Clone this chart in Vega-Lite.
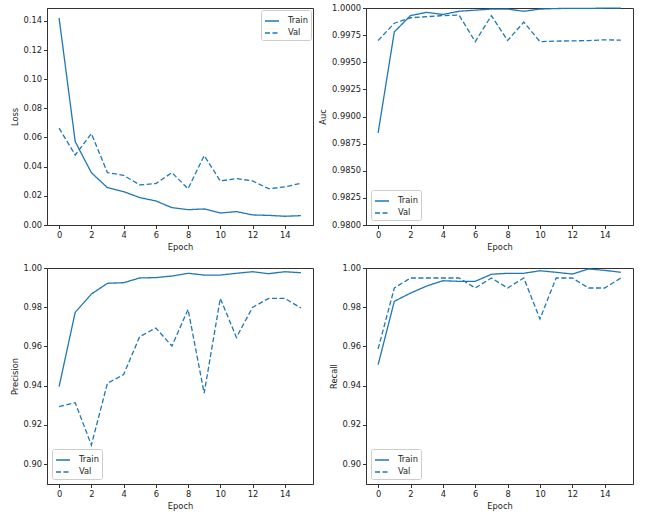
{
  "$schema": "https://vega.github.io/schema/vega-lite/v6.json",
  "background": "white",
  "padding": {"left": 9, "top": 2, "right": 5, "bottom": 5},
  "data": {"values": [
    {"epoch":0,"split":"Train","Loss":0.142,"Auc":0.9885,"Precision":0.9395,"Recall":0.9507},
    {"epoch":1,"split":"Train","Loss":0.0572,"Auc":0.9978,"Precision":0.9774,"Recall":0.983},
    {"epoch":2,"split":"Train","Loss":0.0359,"Auc":0.9993,"Precision":0.9867,"Recall":0.9872},
    {"epoch":3,"split":"Train","Loss":0.0256,"Auc":0.9996,"Precision":0.9922,"Recall":0.9908},
    {"epoch":4,"split":"Train","Loss":0.0229,"Auc":0.9994,"Precision":0.9925,"Recall":0.9935},
    {"epoch":5,"split":"Train","Loss":0.0188,"Auc":0.9997,"Precision":0.9949,"Recall":0.9932},
    {"epoch":6,"split":"Train","Loss":0.0165,"Auc":0.9998,"Precision":0.9951,"Recall":0.9932},
    {"epoch":7,"split":"Train","Loss":0.0119,"Auc":0.9999,"Precision":0.9959,"Recall":0.9968},
    {"epoch":8,"split":"Train","Loss":0.0105,"Auc":0.9999,"Precision":0.9973,"Recall":0.9973},
    {"epoch":9,"split":"Train","Loss":0.011,"Auc":0.9997,"Precision":0.9964,"Recall":0.9973},
    {"epoch":10,"split":"Train","Loss":0.0082,"Auc":0.9999,"Precision":0.9964,"Recall":0.9986},
    {"epoch":11,"split":"Train","Loss":0.0092,"Auc":0.99995,"Precision":0.9973,"Recall":0.9978},
    {"epoch":12,"split":"Train","Loss":0.0069,"Auc":0.99997,"Precision":0.9981,"Recall":0.9969},
    {"epoch":13,"split":"Train","Loss":0.0066,"Auc":0.99997,"Precision":0.9971,"Recall":0.9995},
    {"epoch":14,"split":"Train","Loss":0.006,"Auc":0.99998,"Precision":0.9981,"Recall":0.9988},
    {"epoch":15,"split":"Train","Loss":0.0064,"Auc":0.99998,"Precision":0.9976,"Recall":0.9978},
    {"epoch":0,"split":"Val","Loss":0.0664,"Auc":0.997,"Precision":0.9293,"Recall":0.9587},
    {"epoch":1,"split":"Val","Loss":0.048,"Auc":0.9986,"Precision":0.9313,"Recall":0.9898},
    {"epoch":2,"split":"Val","Loss":0.0627,"Auc":0.9991,"Precision":0.9097,"Recall":0.9949},
    {"epoch":3,"split":"Val","Loss":0.0359,"Auc":0.9992,"Precision":0.9412,"Recall":0.9949},
    {"epoch":4,"split":"Val","Loss":0.0341,"Auc":0.9993,"Precision":0.9456,"Recall":0.9949},
    {"epoch":5,"split":"Val","Loss":0.0275,"Auc":0.99935,"Precision":0.965,"Recall":0.9949},
    {"epoch":6,"split":"Val","Loss":0.0284,"Auc":0.9969,"Precision":0.9694,"Recall":0.9898},
    {"epoch":7,"split":"Val","Loss":0.0359,"Auc":0.9993,"Precision":0.9602,"Recall":0.9949},
    {"epoch":8,"split":"Val","Loss":0.0249,"Auc":0.997,"Precision":0.9789,"Recall":0.9898},
    {"epoch":9,"split":"Val","Loss":0.0476,"Auc":0.9987,"Precision":0.9361,"Recall":0.9949},
    {"epoch":10,"split":"Val","Loss":0.0302,"Auc":0.9969,"Precision":0.9845,"Recall":0.974},
    {"epoch":11,"split":"Val","Loss":0.0318,"Auc":0.99695,"Precision":0.9646,"Recall":0.9949},
    {"epoch":12,"split":"Val","Loss":0.0302,"Auc":0.99697,"Precision":0.9799,"Recall":0.9949},
    {"epoch":13,"split":"Val","Loss":0.0249,"Auc":0.997,"Precision":0.9845,"Recall":0.9898},
    {"epoch":14,"split":"Val","Loss":0.0261,"Auc":0.99707,"Precision":0.9845,"Recall":0.9898},
    {"epoch":15,"split":"Val","Loss":0.0286,"Auc":0.99704,"Precision":0.9796,"Recall":0.9949}
  ]},
  "columns": 2,
  "spacing": {"row": 43, "column": 53},
  "bounds": "flush",
  "concat": [
    {
      "width": 266, "height": 217,
      "mark": {"type": "line", "color": "#1f77b4", "strokeWidth": 1.3, "clip": true},
      "encoding": {
        "x": {"field": "epoch", "type": "quantitative", "scale": {"domain": [-0.75, 15.75], "nice": false}, "axis": {"values": [0,2,4,6,8,10,12,14], "title": "Epoch"}},
        "y": {"field": "Loss", "type": "quantitative", "scale": {"domain": [0, 0.1488], "nice": false, "zero": false}, "axis": {"values": [0,0.02,0.04,0.06,0.08,0.1,0.12,0.14], "format": ".2f", "title": "Loss"}},
        "strokeDash": {"field": "split", "type": "nominal", "scale": {"domain": ["Train","Val"], "range": [[1,0],[5,2.5]]}, "legend": {"orient": "top-right", "title": null, "offset": 2}}
      }
    },
    {
      "width": 267, "height": 217,
      "mark": {"type": "line", "color": "#1f77b4", "strokeWidth": 1.3, "clip": false},
      "encoding": {
        "x": {"field": "epoch", "type": "quantitative", "scale": {"domain": [-0.75, 15.75], "nice": false}, "axis": {"values": [0,2,4,6,8,10,12,14], "title": "Epoch"}},
        "y": {"field": "Auc", "type": "quantitative", "scale": {"domain": [0.98, 1.0], "nice": false, "zero": false}, "axis": {"values": [0.98,0.9825,0.985,0.9875,0.99,0.9925,0.995,0.9975,1.0], "format": ".4f", "title": "Auc"}},
        "strokeDash": {"field": "split", "type": "nominal", "scale": {"domain": ["Train","Val"], "range": [[1,0],[5,2.5]]}, "legend": {"orient": "bottom-left", "title": null, "offset": 5}}
      }
    },
    {
      "width": 266, "height": 216,
      "mark": {"type": "line", "color": "#1f77b4", "strokeWidth": 1.3, "clip": true},
      "encoding": {
        "x": {"field": "epoch", "type": "quantitative", "scale": {"domain": [-0.75, 15.75], "nice": false}, "axis": {"values": [0,2,4,6,8,10,12,14], "title": "Epoch"}},
        "y": {"field": "Precision", "type": "quantitative", "scale": {"domain": [0.8898, 1.0], "nice": false, "zero": false}, "axis": {"values": [0.9,0.92,0.94,0.96,0.98,1.0], "format": ".2f", "title": "Precision"}},
        "strokeDash": {"field": "split", "type": "nominal", "scale": {"domain": ["Train","Val"], "range": [[1,0],[5,2.5]]}, "legend": {"orient": "bottom-left", "title": null, "offset": 5}}
      }
    },
    {
      "width": 267, "height": 216,
      "mark": {"type": "line", "color": "#1f77b4", "strokeWidth": 1.3, "clip": false},
      "encoding": {
        "x": {"field": "epoch", "type": "quantitative", "scale": {"domain": [-0.75, 15.75], "nice": false}, "axis": {"values": [0,2,4,6,8,10,12,14], "title": "Epoch"}},
        "y": {"field": "Recall", "type": "quantitative", "scale": {"domain": [0.8898, 1.0], "nice": false, "zero": false}, "axis": {"values": [0.9,0.92,0.94,0.96,0.98,1.0], "format": ".2f", "title": "Recall"}},
        "strokeDash": {"field": "split", "type": "nominal", "scale": {"domain": ["Train","Val"], "range": [[1,0],[5,2.5]]}, "legend": {"orient": "bottom-left", "title": null, "offset": 5}}
      }
    }
  ],
  "resolve": {"scale": {"x": "independent", "y": "independent", "strokeDash": "independent"}, "legend": {"strokeDash": "independent"}},
  "config": {
    "font": "DejaVu Sans",
    "view": {"stroke": "#333", "strokeWidth": 1},
    "axis": {"grid": false, "domainColor": "#333", "tickColor": "#333", "tickSize": 3.5, "labelFontSize": 8.3, "labelColor": "#222", "titleFontSize": 8.3, "titleFontWeight": "normal", "titleColor": "#222", "labelPadding": 2, "titlePadding": 4},
    "legend": {"labelFontSize": 8.3, "labelColor": "#222", "symbolType": "stroke", "symbolStrokeColor": "#1f77b4", "symbolStrokeWidth": 1.3, "symbolSize": 196, "strokeColor": "#ccc", "fillColor": "rgba(255,255,255,0.85)", "cornerRadius": 2, "padding": 3, "rowPadding": 0, "labelOffset": 8}
  }
}
